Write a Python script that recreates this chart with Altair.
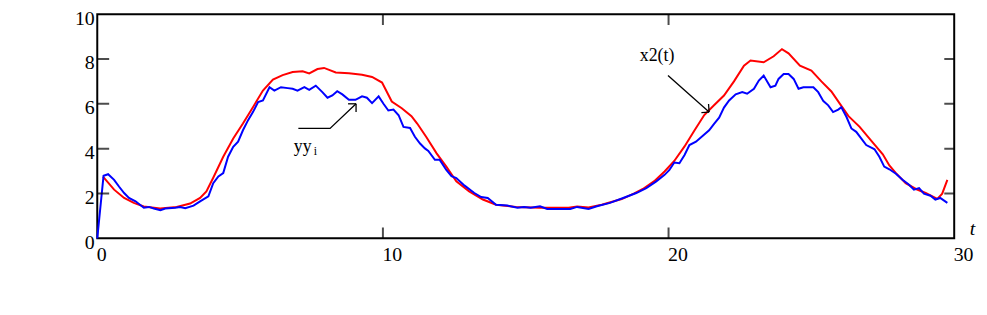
import altair as alt
import pandas as pd

# ---- data ----
red_t = [0.2, 0.59, 0.94, 1.28, 1.63, 2.2, 2.78, 3.25, 3.6, 3.82, 4.06, 4.41, 4.76, 5.1, 5.45,
         5.8, 6.15, 6.49, 6.84, 7.19, 7.42, 7.71, 7.94, 8.35, 8.81, 9.27, 9.62, 9.97, 10.31,
         10.66, 11.0, 11.2, 11.53, 11.88, 12.22, 12.57, 13.02, 13.5, 13.96, 14.65, 15.5, 16.5,
         16.8, 17.2, 17.66, 18.36, 18.8, 19.1, 19.5, 19.86, 20.2, 20.56, 20.9, 21.25, 21.6,
         21.94, 22.29, 22.64, 22.87, 23.33, 23.68, 23.97, 24.2, 24.6, 25.0, 25.35, 25.7, 26.0,
         26.3, 26.69, 27.1, 27.5, 27.73, 27.96, 28.3, 28.66, 29.0, 29.41, 29.58, 29.76]
red_v = [2.75, 2.17, 1.8, 1.58, 1.42, 1.33, 1.40, 1.55, 1.80, 2.09, 2.7, 3.64, 4.45, 5.12, 5.85,
         6.59, 7.08, 7.28, 7.42, 7.45, 7.36, 7.55, 7.6, 7.40, 7.36, 7.30, 7.2, 6.95, 6.1,
         5.8, 5.45, 5.12, 4.5, 3.79, 3.2, 2.54, 2.09, 1.73, 1.5, 1.40, 1.36, 1.36,
         1.42, 1.37, 1.5, 1.75, 2.0, 2.2, 2.55, 2.98, 3.45, 4.1, 4.8, 5.5, 5.95,
         6.37, 7.0, 7.7, 7.93, 7.85, 8.12, 8.44, 8.25, 7.7, 7.48, 7.0, 6.55, 6.0,
         5.45, 4.97, 4.35, 3.75, 3.25, 2.91, 2.46, 2.2, 2.02, 1.76, 1.99, 2.61]

blue_t = [0, 0.22, 0.38, 0.59, 0.76, 0.94, 1.11, 1.34, 1.63, 1.81, 1.98, 2.21, 2.38, 2.73, 2.9,
          3.08, 3.37, 3.6, 3.89, 4.06, 4.24, 4.41, 4.58, 4.76, 4.93, 5.1, 5.28, 5.45, 5.63,
          5.8, 6.03, 6.2, 6.43, 6.67, 6.84, 7.01, 7.25, 7.42, 7.65, 7.88, 8.06, 8.23, 8.4,
          8.58, 8.81, 9.04, 9.27, 9.44, 9.62, 9.85, 10.02, 10.19, 10.37, 10.55, 10.72, 10.95,
          11.12, 11.3, 11.47, 11.59, 11.82, 11.99, 12.22, 12.4, 12.57, 12.86, 13.2, 13.44,
          13.67, 13.96, 14.36, 14.71, 14.94, 15.17, 15.5, 15.75, 16.56, 16.8, 17.2, 17.49,
          17.95, 18.41, 18.87, 19.22, 19.57, 19.86, 20.03, 20.2, 20.38, 20.56, 20.73, 20.96,
          21.19, 21.42, 21.6, 21.77, 21.94, 22.12, 22.35, 22.58, 22.75, 22.99, 23.16, 23.33,
          23.57, 23.74, 23.85, 24.03, 24.2, 24.38, 24.55, 24.72, 25.07, 25.24, 25.42, 25.59,
          25.76, 25.94, 26.05, 26.23, 26.4, 26.57, 26.75, 26.92, 27.15, 27.21, 27.38, 27.55,
          27.73, 27.96, 28.19, 28.42, 28.59, 28.77, 28.94, 29.17, 29.34, 29.51, 29.76]
blue_v = [0, 2.79, 2.86, 2.61, 2.31, 2.02, 1.8, 1.65, 1.36, 1.40, 1.33, 1.25, 1.33, 1.36, 1.40,
          1.34, 1.46, 1.65, 1.87, 2.46, 2.76, 2.91, 3.64, 4.08, 4.31, 4.82, 5.27, 5.63, 6.08,
          6.15, 6.74, 6.59, 6.74, 6.7, 6.67, 6.59, 6.74, 6.62, 6.81, 6.52, 6.27, 6.37, 6.56,
          6.42, 6.18, 6.18, 6.33, 6.27, 6.03, 6.33, 6.0, 5.7, 5.74, 5.49, 4.97, 4.92,
          4.53, 4.23, 4.01, 3.9, 3.5, 3.5, 3.05, 2.77, 2.69, 2.35, 2.02, 1.84,
          1.8, 1.5, 1.46, 1.36, 1.40, 1.36, 1.43, 1.31, 1.31, 1.40, 1.31, 1.43,
          1.58, 1.8, 2.02, 2.24, 2.54, 2.83, 3.05, 3.38, 3.35, 3.72, 4.16, 4.31,
          4.56, 4.82, 5.12, 5.38, 5.83, 6.15, 6.42, 6.52, 6.45, 6.67, 7.04, 7.26,
          6.74, 6.81, 7.11, 7.33, 7.33, 7.11, 6.67, 6.74, 6.74, 6.52, 6.12, 5.93,
          5.63, 5.74, 5.85, 5.41, 4.9, 4.75, 4.45, 4.16, 4.01, 3.97, 3.64, 3.2,
          3.08, 2.88, 2.61, 2.39, 2.17, 2.24, 1.99, 1.9, 1.73, 1.8, 1.58]

x_tick_labels = [0, 10, 20, 30]
y_tick_labels = [0, 2, 4, 6, 8, 10]
x_inner_ticks = [10, 20]
y_inner_ticks = [2, 4, 6, 8]

# annotation arrows (in data units)
arrow_seg = ["a1", "a1", "a1", "a1h1", "a1h1", "a1h2", "a1h2",
             "a2", "a2", "a2h1", "a2h1", "a2h2", "a2h2"]
arrow_t = [7.04, 8.15, 9.06, 9.06, 8.78, 9.06, 9.06,
           19.98, 21.42, 21.42, 21.15, 21.42, 21.40]
arrow_v = [4.90, 4.90, 6.00, 6.00, 6.00, 6.00, 5.64,
           7.26, 5.63, 5.63, 5.61, 5.63, 5.99]

label_text = ["x2(t)", "yy", "i"]
label_t = [18.99, 6.88, 7.58]
label_v = [7.92, 3.85, 3.72]
label_size = [18, 18, 12]

FONT = "Liberation Serif"

red_df = pd.DataFrame({"t": red_t, "v": red_v})
blue_df = pd.DataFrame({"t": blue_t, "v": blue_v})
arrow_df = pd.DataFrame({"seg": arrow_seg, "t": arrow_t, "v": arrow_v,
                         "k": list(range(len(arrow_t)))})
label_df = pd.DataFrame({"txt": label_text, "t": label_t, "v": label_v, "s": label_size})

xs = alt.Scale(domain=[0, 30], nice=False, zero=False)
ys = alt.Scale(domain=[0, 10], nice=False, zero=False)

x_axis = alt.Axis(values=x_tick_labels, ticks=False, domain=False, grid=False,
                  labelFont=FONT, labelFontSize=20, labelColor="black",
                  labelAlign="left", labelOffset=-1, labelPadding=6, format="d",
                  titleFont=FONT, titleFontSize=20, titleFontStyle="italic",
                  titleFontWeight="normal", titleColor="black",
                  titleX=882, titleY=-10, titleAlign="center", titleBaseline="middle")
y_axis = alt.Axis(values=y_tick_labels, ticks=False, domain=False, grid=False,
                  labelFont=FONT, labelFontSize=20, labelColor="black",
                  labelPadding=3, labelOffset=4, format="d")


def X(field="t"):
    return alt.X(f"{field}:Q", scale=xs, axis=x_axis, title="t")


def Y(field="v"):
    return alt.Y(f"{field}:Q", scale=ys, axis=y_axis, title=None)


red = alt.Chart(red_df).mark_line(color="#ff0000", strokeWidth=2).encode(x=X(), y=Y())
blue = alt.Chart(blue_df).mark_line(color="#0000ff", strokeWidth=2).encode(x=X(), y=Y())

left_ticks = alt.Chart(pd.DataFrame({"t": [0] * len(y_inner_ticks), "v": y_inner_ticks})).mark_tick(
    orient="horizontal", size=24, thickness=2, color="black", clip=True).encode(x=X(), y=Y())
right_ticks = alt.Chart(pd.DataFrame({"t": [30] * len(y_inner_ticks), "v": y_inner_ticks})).mark_tick(
    orient="horizontal", size=20, thickness=2, color="black", clip=True).encode(x=X(), y=Y())
bottom_ticks = alt.Chart(pd.DataFrame({"t": x_inner_ticks, "v": [0] * len(x_inner_ticks)})).mark_tick(
    orient="vertical", size=22, thickness=2, color="black", clip=True).encode(x=X(), y=Y())
top_ticks = alt.Chart(pd.DataFrame({"t": x_inner_ticks, "v": [10] * len(x_inner_ticks)})).mark_tick(
    orient="vertical", size=22, thickness=2, color="black", clip=True).encode(x=X(), y=Y())

arrows = alt.Chart(arrow_df).mark_line(color="black", strokeWidth=1.3).encode(
    x=X(), y=Y(), detail="seg:N", order=alt.Order("k:Q"))

labels = alt.Chart(label_df).mark_text(font=FONT, color="black", align="left",
                                       baseline="alphabetic").encode(
    x=X(), y=Y(), text="txt:N", size=alt.Size("s:Q", scale=None, legend=None))

chart = alt.layer(red, blue, left_ticks, right_ticks, bottom_ticks, top_ticks, arrows, labels).properties(
    width=864, height=226,
    autosize=alt.AutoSizeParams(type="none"),
    padding={"left": 90, "top": 5, "right": 25, "bottom": 60},
    background="white",
).configure_view(stroke="black", strokeWidth=2)

chart.save("out.html", embed_options={"renderer": "svg", "actions": False})
